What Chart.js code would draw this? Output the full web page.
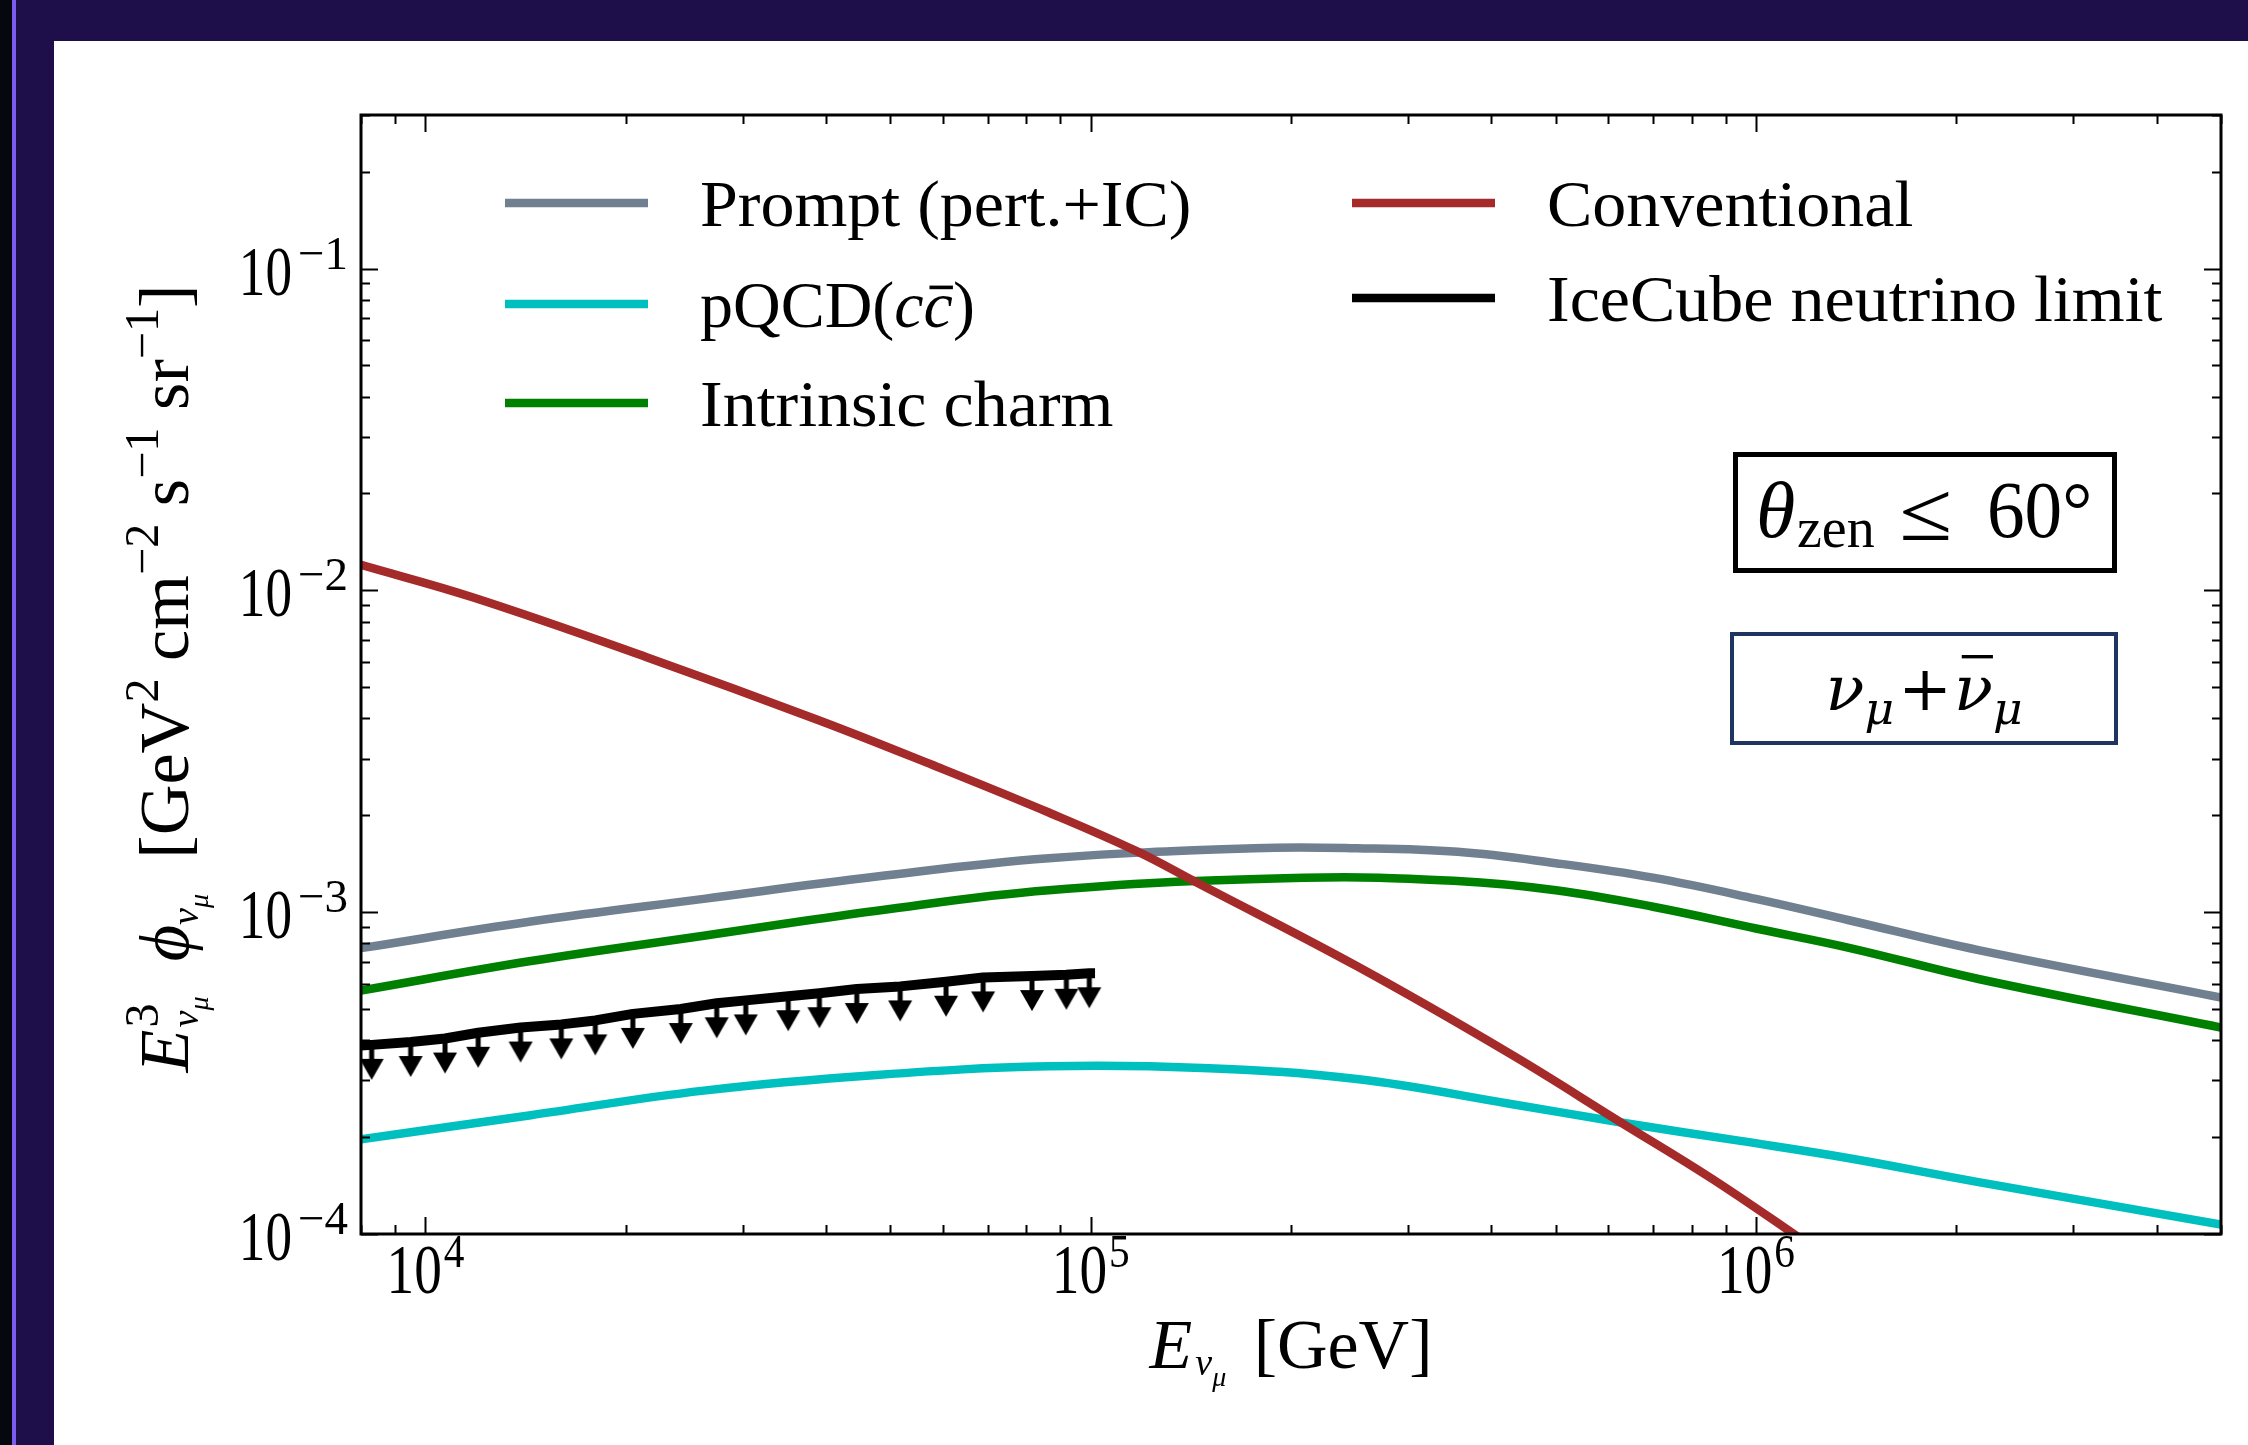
<!DOCTYPE html>
<html>
<head>
<meta charset="utf-8">
<title>Atmospheric muon-neutrino flux</title>
<script src="https://cdn.jsdelivr.net/npm/chart.js@4.4.1/dist/chart.umd.min.js"></script>
<style>
  html, body { margin: 0; padding: 0; }
  body { width: 2248px; height: 1445px; background: #1e0f4a; position: relative; overflow: hidden; }
  #strip { position: absolute; left: 0; top: 0; width: 12px; height: 100%; background: #06080f; }
  #edge { position: absolute; left: 12px; top: 0; width: 4px; height: 100%; background: #7a5cf0; }
  #paper { position: absolute; left: 54px; top: 41px; right: 0; bottom: 0; background: #fff; }
  #chart { position: absolute; left: 0; top: 0; }
</style>
</head>
<body>
<div id="strip"></div>
<div id="edge"></div>
<div id="paper"></div>
<canvas id="chart" width="2248" height="1445"></canvas>
<script>
// axis ranges and labelled decades
const energyRange = [8000, 5e6];
const fluxRange = [1e-4, 0.3];
const xMajorTicks = [1e4, 1e5, 1e6];
const xTickExp = ['4', '5', '6'];
const yMajorTicks = [1e-4, 1e-3, 1e-2, 1e-1];
const yTickExp = ['\u22124', '\u22123', '\u22122', '\u22121'];

// Prompt (pert.+IC)
const promptE = [8000, 14400, 26200, 47700, 86500, 176000, 251000, 356000, 500000, 700000, 1000000, 1380000, 2160000, 5000000];
const promptFlux = [7.73e-4, 9.35e-4, 1.1e-3, 1.29e-3, 1.47e-3, 1.58e-3, 1.58e-3, 1.54e-3, 1.42e-3, 1.28e-3, 1.1e-3, 9.44e-4, 7.62e-4, 5.43e-4];

// pQCD(cc)
const pqcdE = [8000, 14400, 26200, 47700, 86500, 147000, 251000, 426000, 627000, 942000, 1380000, 2160000, 5000000];
const pqcdFlux = [1.97e-4, 2.34e-4, 2.79e-4, 3.12e-4, 3.32e-4, 3.28e-4, 3.03e-4, 2.54e-4, 2.22e-4, 1.95e-4, 1.72e-4, 1.45e-4, 1.07e-4];

// Intrinsic charm
const intrinsicE = [8000, 14400, 26200, 47700, 86500, 209000, 356000, 500000, 700000, 1000000, 1380000, 2160000, 5000000];
const intrinsicFlux = [5.71e-4, 7.05e-4, 8.45e-4, 1.01e-3, 1.17e-3, 1.28e-3, 1.25e-3, 1.17e-3, 1.04e-3, 8.9e-4, 7.75e-4, 6.2e-4, 4.38e-4];

// Conventional
const convE = [8000, 11800, 21500, 39000, 58000, 86500, 117000, 145000, 251000, 426000, 627000, 861000, 1200000];
const convFlux = [1.2e-2, 9.5e-3, 6.2e-3, 3.95e-3, 2.86e-3, 2.04e-3, 1.55e-3, 1.23e-3, 6.8e-4, 3.64e-4, 2.22e-4, 1.48e-4, 9.3e-5];

// IceCube neutrino limit (first and last point carry no arrow)
const limitE = [8000, 8300, 9500, 10700, 12000, 13900, 16000, 18000, 20500, 24200, 27400, 30300, 35100, 39100, 44500, 51700, 60600, 68900, 81600, 91900, 99500, 101500];
const limitFlux = [3.85e-4, 3.87e-4, 3.95e-4, 4.05e-4, 4.22e-4, 4.38e-4, 4.48e-4, 4.61e-4, 4.83e-4, 5.0e-4, 5.21e-4, 5.32e-4, 5.48e-4, 5.6e-4, 5.77e-4, 5.88e-4, 6.08e-4, 6.27e-4, 6.33e-4, 6.39e-4, 6.46e-4, 6.46e-4];

const FONT = '"Liberation Serif", "DejaVu Serif", serif';
const MATH_FONT = '"DejaVu Serif", serif';
const LINE_W = 8.5;

function pts(xs, ys) {
    return xs.map((x, i) => ({ x: x, y: ys[i] }));
}

// 1..9 x 10^k ticks inside the range, powers of ten marked major
function logTicks(min, max) {
    const out = [];
    for (let e = Math.floor(Math.log10(min)); e <= Math.ceil(Math.log10(max)); e++) {
        for (let m = 1; m <= 9; m++) {
            const v = m * Math.pow(10, e);
            if (v >= min * 0.999 && v <= max * 1.001) out.push({ value: v, major: m === 1 });
        }
    }
    return out;
}

// downward arrow used as point marker for the upper limit
function makeArrow() {
    const c = document.createElement('canvas');
    c.width = 28;
    c.height = 76;
    const g = c.getContext('2d');
    g.fillStyle = '#000';
    g.fillRect(11.5, 38, 5, 17);
    g.beginPath();
    g.moveTo(2, 52);
    g.lineTo(26, 52);
    g.lineTo(14, 73);
    g.closePath();
    g.fill();
    return c;
}

// text runs with sub/superscripts
function drawRich(ctx, parts, x, y, sx, dry, family) {
    sx = sx || 1;
    family = family || FONT;
    let cur = 0, mark = 0, hi = 0;
    for (const p of parts) {
        ctx.font = (p.i ? 'italic ' : '') + p.s + 'px ' + family;
        const w = ctx.measureText(p.t).width;
        cur += p.gap || 0;
        if (p.mark) mark = cur;
        if (p.back) cur = mark;
        if (!dry) {
            ctx.save();
            ctx.translate(x + cur * sx, y + (p.dy || 0));
            ctx.scale(sx, 1);
            ctx.textAlign = 'left';
            ctx.textBaseline = 'alphabetic';
            ctx.fillText(p.t, 0, 0);
            if (p.bar) {
                ctx.lineWidth = p.s * 0.055;
                ctx.beginPath();
                ctx.moveTo(w * 0.2, -p.s * p.bar);
                ctx.lineTo(w * 1.0, -p.s * p.bar);
                ctx.stroke();
            }
            ctx.restore();
        }
        cur += w;
        hi = Math.max(hi, cur);
        if (p.back) cur = hi;
    }
    return hi * sx;
}

function scaledText(ctx, s, x, y, font, sx, align) {
    ctx.save();
    ctx.font = font;
    ctx.textAlign = align || 'left';
    ctx.textBaseline = 'alphabetic';
    ctx.translate(x, y);
    ctx.scale(sx, 1);
    ctx.fillText(s, 0, 0);
    ctx.restore();
}

function widthOf(ctx, s, font, sx) {
    ctx.font = font;
    return ctx.measureText(s).width * sx;
}

// frame and inward ticks on all four sides
const frameTicks = {
    id: 'frameTicks',
    afterDatasetsDraw(chart) {
        const { ctx, chartArea: a, scales: { x, y } } = chart;
        ctx.save();
        ctx.strokeStyle = '#000';
        ctx.lineWidth = 2;
        ctx.beginPath();
        x.ticks.forEach(t => {
            const px = Math.round(x.getPixelForValue(t.value)) + 0.5;
            const l = t.major ? 17 : 9;
            ctx.moveTo(px, a.bottom); ctx.lineTo(px, a.bottom - l);
            ctx.moveTo(px, a.top); ctx.lineTo(px, a.top + l);
        });
        y.ticks.forEach(t => {
            const py = Math.round(y.getPixelForValue(t.value)) + 0.5;
            const l = t.major ? 17 : 9;
            ctx.moveTo(a.left, py); ctx.lineTo(a.left + l, py);
            ctx.moveTo(a.right, py); ctx.lineTo(a.right - l, py);
        });
        ctx.stroke();
        ctx.lineWidth = 3;
        ctx.strokeRect(a.left, a.top, a.right - a.left, a.bottom - a.top);
        ctx.restore();
    }
};

// tick labels 10^n and axis titles
const axisText = {
    id: 'axisText',
    afterDraw(chart) {
        const { ctx, chartArea: a, scales: { x, y } } = chart;
        ctx.save();
        ctx.fillStyle = '#000';
        const baseFont = '70px ' + FONT;
        const supFont = '47px ' + FONT;

        yMajorTicks.forEach((v, i) => {
            const py = y.getPixelForValue(v);
            const ws = widthOf(ctx, yTickExp[i], supFont, 1);
            const right = a.left - 13;
            scaledText(ctx, yTickExp[i], right - ws, py, supFont, 1);
            scaledText(ctx, '10', right - ws - 6, py + 26, baseFont, 0.76, 'right');
        });

        xMajorTicks.forEach((v, i) => {
            const px = x.getPixelForValue(v);
            const w10 = widthOf(ctx, '10', baseFont, 0.79);
            const ws = widthOf(ctx, xTickExp[i], supFont, 0.88);
            const start = px - (w10 + 2 + ws) / 2;
            scaledText(ctx, '10', start, a.bottom + 59, baseFont, 0.79);
            scaledText(ctx, xTickExp[i], start + w10 + 2, a.bottom + 33, supFont, 0.88);
        });

        // x title: E_{nu_mu} [GeV]
        const xParts = [
            { t: 'E', s: 70, i: true },
            { t: '\u03bd', s: 38, i: true, dy: 7, gap: 3 },
            { t: '\u03bc', s: 28, i: true, dy: 18 },
            { t: ' [GeV]', s: 70, gap: 10 }
        ];
        const xw = drawRich(ctx, xParts, 0, 0, 1, true);
        drawRich(ctx, xParts, (a.left + a.right) / 2 - xw / 2, a.bottom + 134, 1);

        // y title: E^3_{nu_mu} phi_{nu_mu} [GeV^2 cm^-2 s^-1 sr^-1]
        const yParts = [
            { t: 'E', s: 70, i: true },
            { t: '\u03bd', s: 38, i: true, dy: 10, mark: true, gap: 2 },
            { t: '\u03bc', s: 28, i: true, dy: 20 },
            { t: '3', s: 48, dy: -30, back: true },
            { t: '  ', s: 70 },
            { t: '\u03d5', s: 70, i: true },
            { t: '\u03bd', s: 38, i: true, dy: 10 },
            { t: '\u03bc', s: 28, i: true, dy: 20 },
            { t: '  [GeV', s: 70 },
            { t: '2', s: 48, dy: -30 },
            { t: ' cm', s: 70 },
            { t: '\u22122', s: 48, dy: -30 },
            { t: ' s', s: 70 },
            { t: '\u22121', s: 48, dy: -30 },
            { t: ' sr', s: 70 },
            { t: '\u22121', s: 48, dy: -30 },
            { t: ']', s: 70 }
        ];
        const target = 788;
        const yw = drawRich(ctx, yParts, 0, 0, 1, true);
        ctx.save();
        ctx.translate(a.left - 173, (a.top + a.bottom) / 2 + 4);
        ctx.rotate(-Math.PI / 2);
        drawRich(ctx, yParts, -target / 2, 0, target / yw);
        ctx.restore();
        ctx.restore();
    }
};

// legend in two columns inside the axes
const legendCols = {
    id: 'legendCols',
    afterDatasetsDraw(chart) {
        const { ctx, chartArea: a } = chart;
        const slots = {
            'Prompt (pert.+IC)': [144, 88],
            'pQCD(cc)': [144, 189],
            'Intrinsic charm': [144, 288],
            'Conventional': [991, 88],
            'IceCube neutrino limit': [991, 183]
        };
        ctx.save();
        chart.data.datasets.forEach(ds => {
            const slot = slots[ds.label];
            if (!slot) return;
            const lx = a.left + slot[0];
            const ly = a.top + slot[1];
            ctx.strokeStyle = ds.borderColor;
            ctx.lineWidth = 8.5;
            ctx.lineCap = 'butt';
            ctx.beginPath();
            ctx.moveTo(lx, ly);
            ctx.lineTo(lx + 143, ly);
            ctx.stroke();
            ctx.fillStyle = '#000';
            ctx.strokeStyle = '#000';
            const tx = lx + 195;
            if (ds.label === 'pQCD(cc)') {
                drawRich(ctx, [
                    { t: 'pQCD(', s: 66 },
                    { t: 'c', s: 66, i: true },
                    { t: 'c', s: 66, i: true, bar: 0.6 },
                    { t: ')', s: 66 }
                ], tx, ly + 23, 1);
            } else {
                scaledText(ctx, ds.label, tx, ly + 23, '66px ' + FONT, 1.03);
            }
        });
        ctx.restore();
    }
};

// the two framed annotations on the right
const annotations = {
    id: 'annotations',
    afterDatasetsDraw(chart) {
        const { ctx, chartArea: a } = chart;
        ctx.save();
        ctx.fillStyle = '#000';

        const b1x = a.right - 488, b1y = a.top + 337;
        ctx.strokeStyle = '#000';
        ctx.lineWidth = 5;
        ctx.strokeRect(b1x + 2.5, b1y + 2.5, 379, 116);
        scaledText(ctx, '\u03b8', b1x + 23, b1y + 85, 'italic 80px ' + FONT, 1);
        scaledText(ctx, 'zen', b1x + 64, b1y + 95, '56px ' + FONT, 1);
        scaledText(ctx, '\u2264', b1x + 166, b1y + 88, '84px ' + FONT, 1.15);
        scaledText(ctx, '60\u00b0', b1x + 254, b1y + 85, '80px ' + FONT, 0.94);

        const b2x = a.right - 491, b2y = a.top + 517;
        ctx.strokeStyle = '#1f3560';
        ctx.lineWidth = 4;
        ctx.strokeRect(b2x + 2, b2y + 2, 384, 109);
        ctx.strokeStyle = '#000';
        const parts = [
            { t: '\u03bd', s: 62, i: true },
            { t: '\u03bc', s: 44, i: true, dy: 14 },
            { t: '+', s: 62, gap: 4 },
            { t: '\u03bd', s: 62, i: true, gap: 2, bar: 0.86 },
            { t: '\u03bc', s: 44, i: true, dy: 14 }
        ];
        const w = drawRich(ctx, parts, 0, 0, 1, true, MATH_FONT);
        const sx = 197 / w;
        drawRich(ctx, parts, b2x + 194 - 197 / 2, b2y + 78, sx, false, MATH_FONT);
        ctx.restore();
    }
};

const arrow = makeArrow();

const datasets = [
    {
        label: 'Conventional',
        data: pts(convE, convFlux),
        borderColor: '#a52a2a',
        borderWidth: LINE_W,
        pointRadius: 0,
        tension: 0.4,
        clip: 0
    },
    {
        label: 'IceCube neutrino limit',
        data: pts(limitE, limitFlux),
        borderColor: '#000000',
        borderWidth: 10,
        tension: 0,
        borderJoinStyle: 'round',
        pointStyle: arrow,
        pointRadius: ctx => (ctx.dataIndex === 0 || ctx.dataIndex === limitE.length - 1) ? 0 : 5,
        clip: 0
    },
    {
        label: 'Prompt (pert.+IC)',
        data: pts(promptE, promptFlux),
        borderColor: '#708090',
        borderWidth: LINE_W,
        pointRadius: 0,
        tension: 0.4,
        clip: 0
    },
    {
        label: 'Intrinsic charm',
        data: pts(intrinsicE, intrinsicFlux),
        borderColor: '#008000',
        borderWidth: LINE_W,
        pointRadius: 0,
        tension: 0.4,
        clip: 0
    },
    {
        label: 'pQCD(cc)',
        data: pts(pqcdE, pqcdFlux),
        borderColor: '#00bfbf',
        borderWidth: LINE_W,
        pointRadius: 0,
        tension: 0.4,
        clip: 0
    }
];

function axisOptions(range) {
    return {
        type: 'logarithmic',
        min: range[0],
        max: range[1],
        grid: { display: false, drawTicks: false },
        border: { display: false },
        ticks: { display: false },
        afterBuildTicks: scale => { scale.ticks = logTicks(range[0], range[1]); }
    };
}

new Chart(document.getElementById('chart'), {
    type: 'line',
    data: { datasets: datasets },
    options: {
        responsive: false,
        animation: false,
        events: [],
        layout: { padding: { left: 361, top: 115, right: 27, bottom: 211 } },
        scales: {
            x: axisOptions(energyRange),
            y: axisOptions(fluxRange)
        },
        plugins: {
            legend: { display: false },
            tooltip: { enabled: false }
        }
    },
    plugins: [frameTicks, legendCols, annotations, axisText]
});
</script>
</body>
</html>
